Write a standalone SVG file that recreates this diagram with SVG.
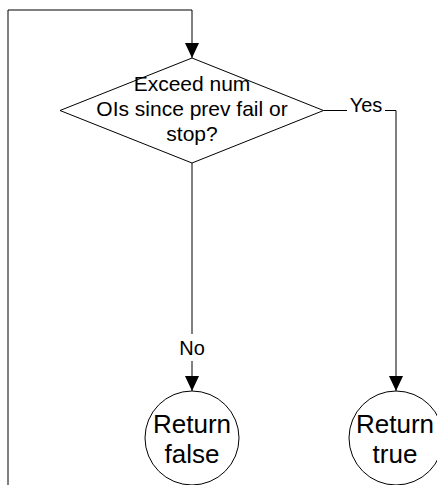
<svg xmlns="http://www.w3.org/2000/svg" width="437" height="485" viewBox="0 0 437 485">
<style>
.shape{fill:#fff;stroke:#000;stroke-width:1}
.conn{fill:none;stroke:#000;stroke-width:1}
.t{font-family:"Liberation Sans",Arial,sans-serif;fill:#000;text-anchor:middle}
.lbl{fill:#fff;stroke:none}
</style>
<defs>
<marker id="arr" viewBox="0 0 15 14" refX="15" refY="7" markerWidth="15" markerHeight="14" markerUnits="userSpaceOnUse" orient="auto">
<path d="M0,0 L15,7 L0,14 z" fill="#000"/>
</marker>
</defs>
<rect width="437" height="485" fill="#fff"/>
<g id="connectors">
<path class="conn" d="M8,485 V10 H192 V58" marker-end="url(#arr)"/>
<path class="conn" d="M192,163 V391" marker-end="url(#arr)"/>
<path class="conn" d="M323.5,110.5 H396 V391" marker-end="url(#arr)"/>
<rect class="lbl" x="179" y="334" width="26" height="27"/>
<text class="t" x="192" y="355" font-size="20">No</text>
<rect class="lbl" x="347" y="97" width="38" height="14"/>
<text class="t" x="366" y="111.5" font-size="20">Yes</text>
</g>
<g id="decision">
<polygon class="shape" points="192,58 323.5,110.5 192,163 60,110.5"/>
<text class="t" font-size="21"><tspan x="192" y="90.5">Exceed num</tspan><tspan x="192" y="116">OIs since prev fail or</tspan><tspan x="192" y="141">stop?</tspan></text>
</g>
<g id="return-false">
<circle class="shape" cx="192" cy="438" r="47"/>
<text class="t" font-size="26"><tspan x="192" y="433">Return</tspan><tspan x="192" y="463">false</tspan></text>
</g>
<g id="return-true">
<circle class="shape" cx="396" cy="438" r="47"/>
<text class="t" font-size="26"><tspan x="395" y="433">Return</tspan><tspan x="395" y="463">true</tspan></text>
</g>
</svg>
